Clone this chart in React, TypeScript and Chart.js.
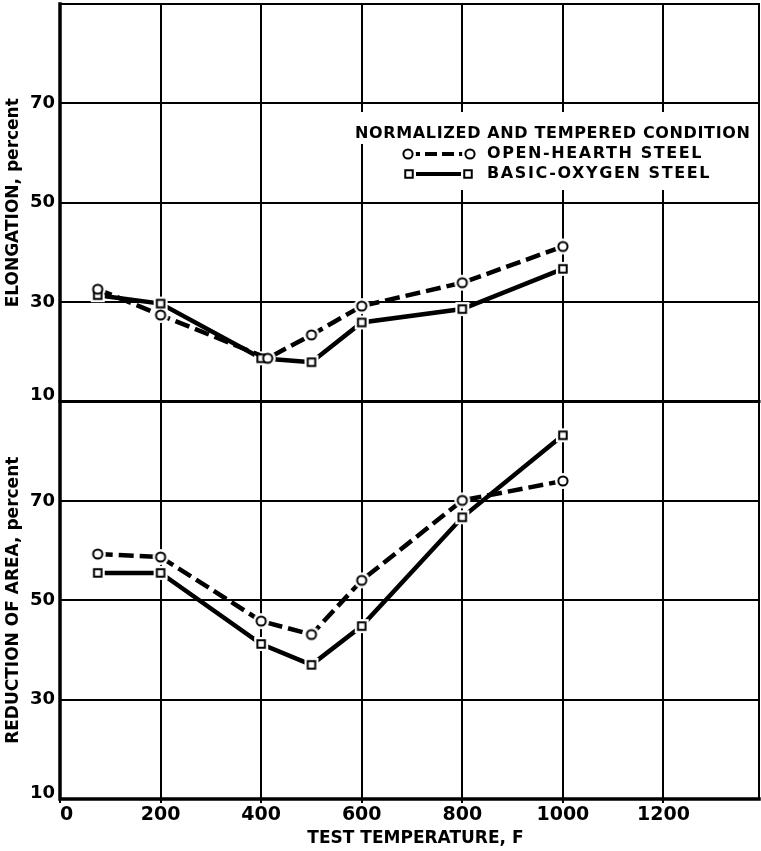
import React, { useEffect, useRef } from "react";
import { Chart, registerables } from "chart.js";

Chart.register(...registerables);

// Test temperatures, °F
const temperaturesF = [75, 200, 400, 500, 600, 800, 1000];
// the open-hearth elongation point near 400 F is plotted slightly to the right
const openHearthElongationTempsF = [75, 200, 413, 500, 600, 800, 1000];

// Elongation, percent
const openHearthElongation = [32.6, 27.4, 18.7, 23.4, 29.2, 33.9, 41.2];
const basicOxygenElongation = [31.4, 29.7, 18.7, 17.9, 25.9, 28.6, 36.7];

// Reduction of area, percent
const openHearthReduction = [59.3, 58.7, 45.8, 43.1, 54.0, 70.1, 74.0];
const basicOxygenReduction = [55.5, 55.5, 41.2, 37.0, 44.8, 66.7, 83.2];

// Axis ticks
const xTicks = [0, 200, 400, 600, 800, 1000, 1200];
const yTicks = [10, 30, 50, 70];

const FONT = "DejaVu Sans";

function makeMarker(kind: "circle" | "square", withOutline: boolean): HTMLCanvasElement {
  const size = kind === "circle" ? 18 : 16;
  const c = document.createElement("canvas");
  c.width = size;
  c.height = size;
  const ctx = c.getContext("2d")!;
  const m = size / 2;
  ctx.fillStyle = "#fff";
  ctx.strokeStyle = "#000";
  ctx.lineWidth = 2;
  if (!withOutline) {
    // white halo that opens a small gap where the line meets the marker
    if (kind === "circle") {
      ctx.beginPath();
      ctx.arc(m, m, 8, 0, Math.PI * 2);
      ctx.fill();
    } else {
      ctx.fillRect(1, 1, size - 2, size - 2);
    }
    return c;
  }
  if (kind === "circle") {
    ctx.beginPath();
    ctx.arc(m, m, 4.6, 0, Math.PI * 2);
    ctx.fill();
    ctx.stroke();
  } else {
    ctx.beginPath();
    ctx.rect(m - 3.75, m - 3.75, 7.5, 7.5);
    ctx.fill();
    ctx.stroke();
  }
  return c;
}

const pts = (xs: number[], ys: number[]) => xs.map((x, i) => ({ x, y: ys[i] }));

const OH_DASH = [15, 6];

const whiteBackground = {
  id: "whiteBackground",
  beforeDraw(chart: any) {
    const { ctx, width, height } = chart;
    ctx.save();
    ctx.fillStyle = "#fff";
    ctx.fillRect(0, 0, width, height);
    ctx.restore();
  },
};

function makeLegendPlugin(circle: HTMLCanvasElement, square: HTMLCanvasElement, circleHalo: HTMLCanvasElement, squareHalo: HTMLCanvasElement) {
  return {
    id: "conditionLegend",
    beforeDatasetsDraw(chart: any) {
      const { ctx } = chart;
      ctx.save();
      ctx.fillStyle = "#fff";
      ctx.fillRect(350, 112, 407, 32);
      ctx.fillRect(395, 144, 362, 46);

      ctx.fillStyle = "#000";
      ctx.font = `bold 16px "${FONT}"`;
      ctx.textBaseline = "middle";
      ctx.textAlign = "left";
      (ctx as any).letterSpacing = "0.65px";
      ctx.fillText("NORMALIZED AND TEMPERED CONDITION", 355, 134);
      (ctx as any).letterSpacing = "1.6px";
      ctx.fillText("OPEN-HEARTH STEEL", 487, 154);
      ctx.fillText("BASIC-OXYGEN STEEL", 487, 174);
      (ctx as any).letterSpacing = "0px";

      ctx.strokeStyle = "#000";
      ctx.lineWidth = 4;
      ctx.lineCap = "butt";
      ctx.setLineDash([12, 5]);
      ctx.beginPath();
      ctx.moveTo(408, 154);
      ctx.lineTo(470, 154);
      ctx.stroke();
      ctx.setLineDash([]);
      ctx.beginPath();
      ctx.moveTo(409, 174);
      ctx.lineTo(468, 174);
      ctx.stroke();

      const put = (img: HTMLCanvasElement, x: number, y: number) =>
        ctx.drawImage(img, x - img.width / 2, y - img.height / 2);
      put(circleHalo, 408, 154);
      put(circleHalo, 470, 154);
      put(squareHalo, 409, 174);
      put(squareHalo, 468, 174);
      put(circle, 408, 154);
      put(circle, 470, 154);
      put(square, 409, 174);
      put(square, 468, 174);
      ctx.restore();
    },
  };
}

const framePlugin = {
  id: "plotFrame",
  afterDraw(chart: any) {
    const { ctx, chartArea: a } = chart;
    const upper = chart.scales.yElong;
    ctx.save();
    ctx.strokeStyle = "#000";
    ctx.lineCap = "square";
    ctx.lineWidth = 2;
    ctx.beginPath();
    ctx.moveTo(a.left, a.top);
    ctx.lineTo(a.right, a.top);
    ctx.lineTo(a.right, a.bottom);
    ctx.stroke();
    ctx.lineWidth = 3;
    ctx.beginPath();
    ctx.moveTo(a.left, upper.bottom);
    ctx.lineTo(a.right, upper.bottom);
    ctx.stroke();
    ctx.lineWidth = 3.5;
    ctx.beginPath();
    ctx.moveTo(a.left, a.top);
    ctx.lineTo(a.left, a.bottom);
    ctx.lineTo(a.right, a.bottom);
    ctx.stroke();
    ctx.restore();
  },
};

// keep the plot area exactly where the layout padding puts it
function clearScalePadding(s: any) {
  s.paddingTop = 0;
  s.paddingBottom = 0;
  s.paddingLeft = 0;
  s.paddingRight = 0;
}

function yAxis(title: string, weight: number) {
  return {
    type: "linear",
    position: "left",
    stack: "panels",
    stackWeight: 1,
    weight,
    min: 10,
    max: 90,
    afterBuildTicks: (s: any) => {
      s.ticks = yTicks.map((v) => ({ value: v }));
    },
    afterFit: (s: any) => {
      s.width = 60;
      clearScalePadding(s);
    },
    border: { display: false },
    grid: { color: "#000", lineWidth: 2, drawTicks: false },
    ticks: {
      color: "#000",
      padding: 5,
      font: { family: FONT, size: 18, weight: "bold", lineHeight: 0.67 },
      callback: (v: number) => (v === 10 ? ["10", ""] : String(v)),
    },
    title: {
      display: true,
      text: title,
      color: "#000",
      font: { family: FONT, size: 17, weight: "bold" },
      padding: { top: 3, bottom: 0 },
    },
  };
}

export default function App() {
  const ref = useRef<HTMLCanvasElement>(null);

  useEffect(() => {
    const circle = makeMarker("circle", true);
    const square = makeMarker("square", true);
    const circleHalo = makeMarker("circle", false);
    const squareHalo = makeMarker("square", false);

    const markerSet = (data: any[], yAxisID: string, style: HTMLCanvasElement) => ({
      data,
      yAxisID,
      showLine: false,
      pointStyle: style,
      order: 0,
    });
    const lineSet = (data: any[], yAxisID: string, halo: HTMLCanvasElement, dashed: boolean) => ({
      data,
      yAxisID,
      borderColor: "#000",
      borderWidth: 4.5,
      borderDash: dashed ? OH_DASH : [],
      borderCapStyle: "butt",
      tension: 0,
      fill: false,
      pointStyle: halo,
      order: 1,
    });

    const ohElong = pts(openHearthElongationTempsF, openHearthElongation);
    const boElong = pts(temperaturesF, basicOxygenElongation);
    const ohArea = pts(temperaturesF, openHearthReduction);
    const boArea = pts(temperaturesF, basicOxygenReduction);

    const chart = new Chart(ref.current!, {
      type: "line",
      data: {
        datasets: [
          markerSet(ohElong, "yElong", circle),
          markerSet(boElong, "yElong", square),
          markerSet(ohArea, "yArea", circle),
          markerSet(boArea, "yArea", square),
          lineSet(ohElong, "yElong", circleHalo, true),
          lineSet(boElong, "yElong", squareHalo, false),
          lineSet(ohArea, "yArea", circleHalo, true),
          lineSet(boArea, "yArea", squareHalo, false),
        ] as any,
      },
      options: {
        animation: false,
        responsive: false,
        devicePixelRatio: 1,
        events: [],
        layout: { autoPadding: false, padding: { top: 4, right: 2, left: 0, bottom: 0 } },
        plugins: { legend: { display: false }, tooltip: { enabled: false } },
        scales: {
          x: {
            type: "linear",
            min: 0,
            max: 1390,
            afterBuildTicks: (s: any) => {
              s.ticks = xTicks.map((v) => ({ value: v }));
            },
            afterFit: (s: any) => {
              s.height = 52;
              clearScalePadding(s);
            },
            border: { display: false },
            grid: { color: "#000", lineWidth: 2, tickLength: 4 },
            ticks: {
              color: "#000",
              padding: 1,
              maxRotation: 0,
              autoSkip: false,
              font: { family: FONT, size: 19, weight: "bold" },
              callback: (v: number) => (v === 0 ? "  0" : String(v)),
            },
            title: {
              display: true,
              text: "  TEST TEMPERATURE, F",
              color: "#000",
              font: { family: FONT, size: 17, weight: "bold" },
              padding: { top: 0, bottom: 2 },
            },
          },
          yElong: yAxis("ELONGATION, percent", 2),
          yArea: yAxis("REDUCTION OF AREA, percent", 1),
        } as any,
      },
      plugins: [whiteBackground, makeLegendPlugin(circle, square, circleHalo, squareHalo), framePlugin],
    } as any);

    return () => chart.destroy();
  }, []);

  return (
    <div style={{ position: "absolute", left: 0, top: 0, width: 761, height: 851, background: "#fff" }}>
      <canvas ref={ref} width={761} height={851} style={{ display: "block", width: 761, height: 851 }} />
    </div>
  );
}
